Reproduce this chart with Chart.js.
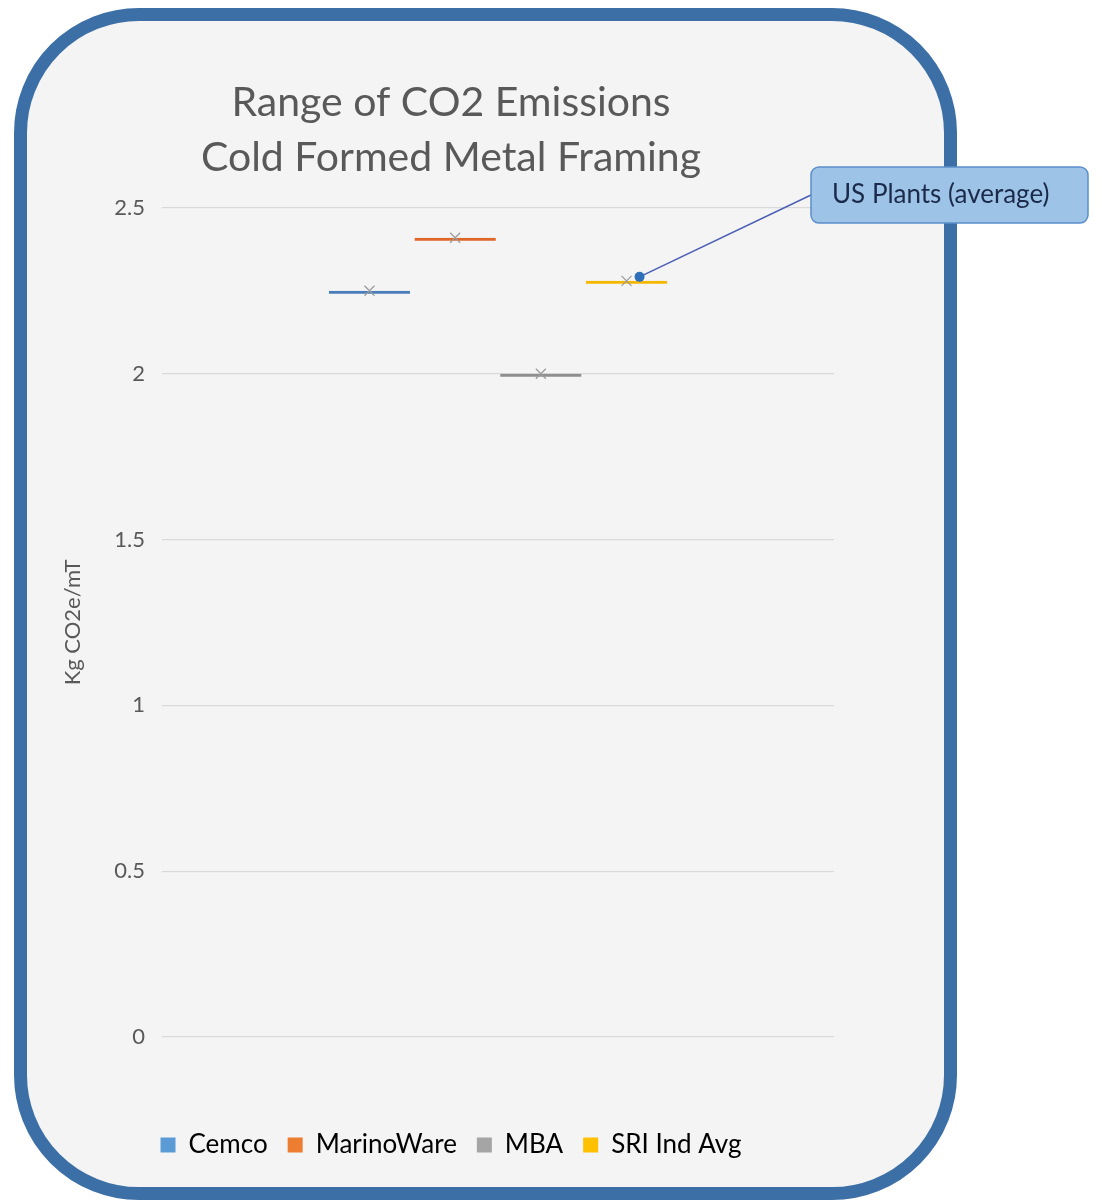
<!DOCTYPE html>
<html>
<head>
<meta charset="utf-8">
<title>Range of CO2 Emissions</title>
<script src="https://cdn.jsdelivr.net/npm/chart.js@4.4.1/dist/chart.umd.min.js"></script>
<style>
  body { margin: 0; background: #ffffff; }
  #wrap { position: relative; width: 1102px; height: 1203px; }
  #frame {
    position: absolute; left: 14px; top: 8px; width: 943px; height: 1192px;
    box-sizing: border-box; border: 13px solid #3b6fa6; border-radius: 125px;
    background: #f4f4f4;
  }
  #co2Chart { position: absolute; left: 0; top: 0; }
</style>
</head>
<body>
<div id="wrap">
  <div id="frame"></div>
  <canvas id="co2Chart" width="1102" height="1203"></canvas>
</div>
<script>
// chart values
const categories = [''];
const seriesNames = ['Cemco', 'MarinoWare', 'MBA', 'SRI Ind Avg'];
const seriesValues = [2.25, 2.41, 2.0, 2.28];
const yTicks = [0, 0.5, 1, 1.5, 2, 2.5];

const seriesColors = ['#4a7ebb', '#e0662a', '#8f8f8f', '#f5b800'];
const legendColors = ['#5b9bd5', '#ed7d31', '#a5a5a5', '#ffc000'];
const fontFamily = 'Lato, "Open Sans", sans-serif';
const textColor = '#595959';

// small gray X drawn at the middle of each level line
const crossMarkers = {
    id: 'crossMarkers',
    afterDatasetsDraw(chart) {
        const ctx = chart.ctx;
        ctx.save();
        ctx.strokeStyle = '#9a9a9a';
        ctx.lineWidth = 1.2;
        chart.data.datasets.forEach((ds, i) => {
            const el = chart.getDatasetMeta(i).data[0];
            const s = 5;
            ctx.beginPath();
            ctx.moveTo(el.x - s, el.y - s);
            ctx.lineTo(el.x + s, el.y + s);
            ctx.moveTo(el.x + s, el.y - s);
            ctx.lineTo(el.x - s, el.y + s);
            ctx.stroke();
        });
        ctx.restore();
    }
};

// callout box pointing at the SRI industry average
const callout = {
    id: 'callout',
    afterDraw(chart) {
        const ctx = chart.ctx;
        const el = chart.getDatasetMeta(3).data[0];
        const tx = el.x + el.width * 0.16;
        const ty = el.y - 4;
        const bx = 811, by = 167, bw = 277, bh = 56;

        ctx.save();
        ctx.strokeStyle = '#4a5fb5';
        ctx.lineWidth = 1.5;
        ctx.beginPath();
        ctx.moveTo(bx, by + bh / 2);
        ctx.lineTo(tx, ty);
        ctx.stroke();

        ctx.fillStyle = '#2f6fba';
        ctx.beginPath();
        ctx.arc(tx, ty, 5, 0, Math.PI * 2);
        ctx.fill();

        ctx.beginPath();
        ctx.roundRect(bx, by, bw, bh, 8);
        ctx.fillStyle = '#9dc3e6';
        ctx.fill();
        ctx.strokeStyle = '#5b8fc9';
        ctx.lineWidth = 1.5;
        ctx.stroke();

        ctx.fillStyle = '#1b2a4a';
        ctx.font = '26px ' + fontFamily;
        ctx.textBaseline = 'middle';
        ctx.textAlign = 'left';
        ctx.fillText('US Plants (average)', bx + 21, by + bh / 2);
        ctx.restore();
    }
};

const datasets = seriesNames.map((name, i) => ({
    label: name,
    data: [seriesValues[i]],
    backgroundColor: 'rgba(0,0,0,0)',
    borderColor: seriesColors[i],
    borderWidth: { top: 3, right: 0, bottom: 0, left: 0 },
    borderSkipped: false
}));

const ctx = document.getElementById('co2Chart').getContext('2d');
new Chart(ctx, {
    type: 'bar',
    data: { labels: categories, datasets: datasets },
    options: {
        responsive: false,
        animation: false,
        categoryPercentage: 0.51,
        barPercentage: 0.95,
        layout: { padding: { top: 75, left: 20, right: 220, bottom: 35 } },
        plugins: {
            tooltip: { enabled: false },
            title: {
                display: true,
                text: ['Range of CO2 Emissions', 'Cold Formed Metal Framing'],
                color: textColor,
                font: { family: fontFamily, size: 41, weight: 'normal', lineHeight: 1.34 },
                padding: { top: 0, bottom: 23 }
            },
            legend: {
                position: 'bottom',
                labels: {
                    color: textColor,
                    font: { family: fontFamily, size: 26 },
                    boxWidth: 15,
                    boxHeight: 15,
                    padding: 20,
                    generateLabels: () => seriesNames.map((name, i) => ({
                        text: name,
                        fillStyle: legendColors[i],
                        strokeStyle: legendColors[i],
                        lineWidth: 0,
                        datasetIndex: i
                    }))
                }
            }
        },
        scales: {
            x: {
                grid: { display: false },
                border: { display: false },
                ticks: { display: false },
                afterFit: scale => { scale.height = 75; }
            },
            y: {
                min: 0,
                max: 2.5,
                afterBuildTicks: scale => { scale.ticks = yTicks.map(v => ({ value: v })); },
                ticks: {
                    color: textColor,
                    font: { family: fontFamily, size: 22 },
                    padding: 17,
                    callback: v => String(v)
                },
                grid: { color: '#d9d9d9', lineWidth: 1.2, drawTicks: false },
                border: { display: false },
                title: {
                    display: true,
                    text: 'Kg CO2e/mT',
                    color: textColor,
                    font: { family: fontFamily, size: 22 },
                    padding: { top: 40, bottom: 0 }
                },
                afterFit: scale => { scale.width = 142; }
            },
            yRight: {
                position: 'right',
                display: true,
                grid: { display: false },
                border: { display: false },
                ticks: { display: false },
                afterFit: scale => { scale.width = 48; }
            }
        }
    },
    plugins: [crossMarkers, callout]
});
</script>
</body>
</html>
